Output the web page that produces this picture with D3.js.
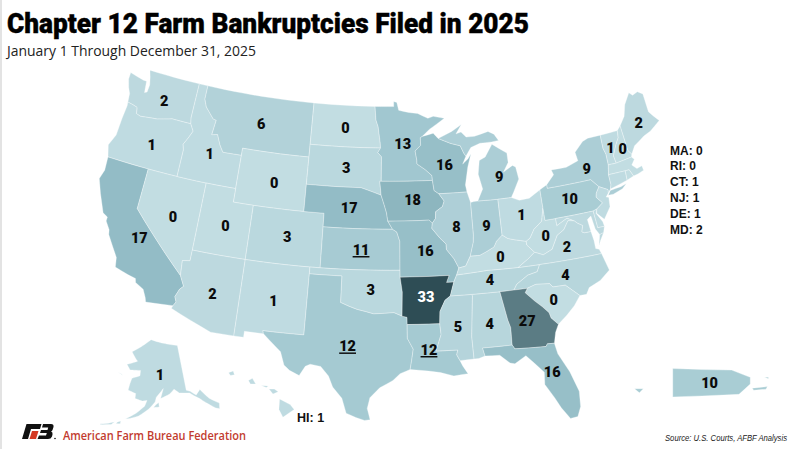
<!DOCTYPE html>
<html>
<head>
<meta charset="utf-8">
<script src="https://cdnjs.cloudflare.com/ajax/libs/d3/7.8.5/d3.min.js"></script>
<style>
html, body { margin: 0; padding: 0; background: #fff; }
svg { display: block; }
text { font-family: "Liberation Sans", Arial, sans-serif; }
</style>
</head>
<body>
<div id="chart"></div>
<script>
// values
var stateIds = ["WA","OR","CA","NV","ID","MT","WY","UT","AZ","CO","NM","ND","SD","NE","KS","OK","TX","MN","IA","MO","AR","LA","WI","IL","MS","AL","TN","KY","IN","MI","OH","WV","VA","NC","SC","GA","FL","PA","NY","VT","NH","ME","MA","RI","CT","NJ","DE","MD","AK","HI","PR"];
var stateCounts = [2,1,17,0,1,6,0,0,2,3,1,0,3,17,11,3,12,13,18,16,33,12,16,8,5,4,4,0,9,9,1,0,2,4,0,27,16,10,9,1,0,2,0,0,1,1,1,2,1,1,10];
var sideList = ["MA","RI","CT","NJ","DE","MD"];
var underlined = ["KS","TX","LA"];

// state outlines, "lon,lat" rings
var outlines = {
WA:["-124.7,48.4 -123.1,48.15 -122.75,48.15 -122.6,47.3 -122.35,47.4 -122.3,47.95 -122.5,48.5 -122.75,49 -117.03,49 -117.04,46.42 -116.92,45.99 -118.98,46 -119.3,45.93 -120.5,45.7 -121.2,45.65 -122.3,45.55 -122.76,45.65 -122.9,46.1 -123.4,46.2 -124,46.27 -124.1,46.9 -124.4,47.3 -124.7,47.9"],
OR:["-124,46.27 -123.4,46.2 -122.9,46.1 -122.76,45.65 -122.3,45.55 -121.2,45.65 -120.5,45.7 -119.3,45.93 -118.98,46 -116.92,45.99 -116.5,45.5 -116.85,44.9 -117.2,44.4 -117.03,44 -117.03,42 -124.2,42 -124.55,42.85 -124.1,43.7 -124.05,45 -123.95,46"],
CA:["-124.2,42 -120,42 -120,39 -114.63,35 -114.15,34.27 -114.45,34 -114.72,33.4 -114.52,33.03 -114.72,32.72 -117.12,32.53 -117.25,32.85 -117.6,33.4 -118.4,33.75 -118.5,34.03 -119.2,34.15 -120.5,34.45 -120.65,35.15 -121.9,36.6 -122,36.95 -122.5,37.5 -122.5,37.8 -123,38 -123.8,39.3 -124.35,40.3 -124.1,41"],
NV:["-120,42 -114.04,42 -114.04,37 -114.05,36.2 -114.74,36.1 -114.63,35 -120,39"],
ID:["-117.03,49 -116.05,49 -116.05,48 -115.7,47.45 -114.7,46.7 -114.35,46.65 -114.5,45.55 -113.9,45.65 -113.45,44.95 -113,44.45 -111.05,44.48 -111.05,42 -117.03,42 -117.03,44 -117.2,44.4 -116.85,44.9 -116.5,45.5 -116.92,45.99 -117.04,46.42"],
MT:["-116.05,49 -104.05,49 -104.05,45.94 -104.05,45 -111.05,45 -111.05,44.48 -113,44.45 -113.45,44.95 -113.9,45.65 -114.5,45.55 -114.35,46.65 -114.7,46.7 -115.7,47.45 -116.05,48"],
WY:["-111.05,45 -104.05,45 -104.05,43 -104.05,41 -111.05,41 -111.05,42 -111.05,44.48"],
UT:["-114.04,42 -111.05,42 -111.05,41 -109.05,41 -109.05,37 -114.04,37"],
CO:["-109.05,41 -104.05,41 -102.05,41 -102.05,40 -102.05,37 -103,37 -109.05,37"],
AZ:["-114.04,37 -109.05,37 -109.05,31.33 -111.07,31.33 -114.81,32.5 -114.72,32.72 -114.52,33.03 -114.72,33.4 -114.45,34 -114.15,34.27 -114.63,35 -114.74,36.1 -114.05,36.2"],
NM:["-109.05,37 -103,37 -103,36.5 -103.04,32 -106.62,32 -106.53,31.78 -108.2,31.78 -108.2,31.33 -109.05,31.33"],
ND:["-104.05,49 -97.23,49 -97.1,48 -96.85,47.5 -96.6,46.3 -96.56,45.94 -104.05,45.94"],
SD:["-104.05,45.94 -96.56,45.94 -96.85,45.6 -96.45,45.3 -96.45,43.5 -96.6,43.5 -96.45,42.49 -97.85,42.85 -98.5,43 -104.05,43"],
NE:["-104.05,43 -98.5,43 -97.85,42.85 -96.45,42.49 -96.1,41.7 -95.9,41.2 -95.77,40.59 -95.31,40 -102.05,40 -102.05,41 -104.05,41"],
KS:["-102.05,40 -95.31,40 -94.9,39.8 -94.61,39.11 -94.62,37 -102.05,37"],
OK:["-103,37 -102.05,37 -94.62,37 -94.62,36.5 -94.43,35.4 -94.48,33.64 -95.2,33.9 -96,33.85 -97,33.8 -97.7,33.95 -98.5,34.1 -99.2,34.3 -100,34.56 -100,36.5 -103,36.5"],
TX:["-103,36.5 -100,36.5 -100,34.56 -99.2,34.3 -98.5,34.1 -97.7,33.95 -97,33.8 -96,33.85 -95.2,33.9 -94.48,33.64 -94.04,33.55 -94.04,33.02 -94.04,32 -93.55,31.2 -93.7,30.4 -93.85,29.7 -94.7,29.4 -95.3,28.9 -96.4,28.35 -97.2,27.6 -97.4,26.8 -97.15,25.96 -97.6,25.9 -98.3,26.1 -99.1,26.4 -99.5,27.5 -100.3,28.3 -100.7,29.1 -101.4,29.77 -102.3,29.88 -102.7,29.7 -103.15,28.98 -104,29.3 -104.5,29.65 -104.9,30.6 -106,31.4 -106.53,31.78 -106.62,32 -103.04,32"],
MN:["-97.23,49 -95.15,49 -95.15,49.38 -94.8,49.3 -94.6,48.72 -93.5,48.55 -92.5,48.45 -91.4,48.07 -90.8,48.2 -89.6,48 -91.3,47.25 -92.1,46.75 -92.3,46.66 -92.3,46.1 -92.9,45.7 -92.75,45 -92.75,44.75 -91.9,44.3 -91.25,43.85 -91.22,43.5 -96.45,43.5 -96.45,45.3 -96.85,45.6 -96.56,45.94 -96.6,46.3 -96.85,47.5 -97.1,48"],
WI:["-92.1,46.75 -90.9,46.95 -90.4,46.55 -89.1,46.13 -88.1,45.9 -87.8,45.35 -87.6,45.1 -88,44.55 -87.4,44.9 -87.05,45.25 -87.5,44.3 -87.9,43 -87.8,42.49 -90.64,42.5 -91.1,42.75 -91.22,43.5 -91.25,43.85 -91.9,44.3 -92.75,44.75 -92.75,45 -92.9,45.7 -92.3,46.1 -92.3,46.66"],
IA:["-96.45,43.5 -91.22,43.5 -91.1,42.75 -90.64,42.5 -90.15,41.95 -90.35,41.55 -91.05,41.2 -91.1,40.7 -91.42,40.38 -91.73,40.61 -95.77,40.59 -95.9,41.2 -96.1,41.7 -96.45,42.49 -96.6,43.5"],
MO:["-95.77,40.59 -91.73,40.61 -91.42,40.38 -91.5,40 -90.75,39.25 -90.2,38.8 -90.2,38.4 -89.55,37.7 -89.15,37 -89.4,36.5 -89.7,36 -90.37,36 -90.1,36.5 -94.62,36.5 -94.62,37 -94.61,39.11 -94.9,39.8 -95.31,40"],
AR:["-94.62,36.5 -90.1,36.5 -90.37,36 -89.7,36 -90.1,35 -90.6,34.7 -91.1,33.9 -91.17,33 -94.04,33.02 -94.04,33.55 -94.48,33.64 -94.43,35.4"],
LA:["-94.04,33.02 -91.17,33 -91.1,32.2 -91.6,31 -89.73,31 -89.85,30.65 -89.6,30.2 -89.4,29.8 -89,29.2 -90.2,29.1 -91.3,29.4 -92.3,29.55 -93.85,29.7 -93.7,30.4 -93.55,31.2 -94.04,32"],
MS:["-90.1,35 -88.2,35 -88.1,34.9 -88.45,31.9 -88.4,30.25 -89.6,30.2 -89.85,30.65 -89.73,31 -91.6,31 -91.1,32.2 -91.17,33 -91.1,33.9 -90.6,34.7"],
AL:["-88.2,35 -85.6,35 -85.18,32.87 -85,32.3 -85.05,31 -87.6,31 -87.45,30.4 -88,30.25 -88.4,30.25 -88.45,31.9 -88.1,34.9"],
TN:["-90.1,35 -89.7,36 -89.4,36.5 -86.5,36.65 -83.68,36.6 -81.68,36.59 -82,36.1 -82.9,35.95 -84,35.4 -84.32,35 -85.6,35 -88.2,35"],
KY:["-89.4,36.5 -89.15,37 -88.5,37.1 -88,37.8 -87.1,37.8 -86.5,38 -85.7,38.3 -85.4,38.7 -84.8,39.1 -84.3,38.8 -83.7,38.65 -82.6,38.42 -82.6,38.15 -81.97,37.54 -82.7,37.1 -83.68,36.6 -86.5,36.65"],
IL:["-90.64,42.5 -87.8,42.49 -87.53,41.7 -87.53,39.35 -87.6,38.8 -88,37.8 -88.5,37.1 -89.15,37 -89.55,37.7 -90.2,38.4 -90.2,38.8 -90.75,39.25 -91.5,40 -91.42,40.38 -91.1,40.7 -91.05,41.2 -90.35,41.55 -90.15,41.95"],
IN:["-87.53,41.7 -87.2,41.75 -86.8,41.76 -84.8,41.73 -84.8,39.1 -85.4,38.7 -85.7,38.3 -86.5,38 -87.1,37.8 -88,37.8 -87.6,38.8 -87.53,39.35"],
OH:["-84.8,41.73 -83.45,41.73 -82.7,41.45 -81.7,41.5 -80.52,41.98 -80.52,40.64 -80.85,39.7 -81.7,39.2 -82.2,38.6 -82.6,38.42 -83.7,38.65 -84.3,38.8 -84.8,39.1"],
MI:["-86.8,41.76 -84.8,41.73 -83.45,41.73 -83.15,42.1 -82.45,43 -82.6,43.9 -82.9,44.05 -83.9,43.65 -83.3,44.3 -83.3,45 -84.75,45.78 -85.6,44.9 -86.25,44.7 -86.5,43.7 -86.2,42.6",
    "-90.4,46.55 -89.1,46.13 -88.1,45.9 -87.8,45.35 -87.6,45.1 -87,45.7 -86,45.95 -84.75,45.95 -84,46 -84.4,46.5 -85,46.75 -86.5,46.5 -87.4,46.5 -87.9,46.9 -88.45,46.8 -87.8,47.45 -88.9,47"],
PA:["-80.52,41.98 -79.76,42.27 -79.76,42 -75.35,42 -74.7,41.36 -75.1,40.95 -75.2,40.65 -74.72,40.15 -75.4,39.8 -75.79,39.72 -79.48,39.72 -80.52,39.72 -80.52,40.64"],
NY:["-79.76,42.27 -78.9,42.9 -79.05,43.27 -77.5,43.25 -76.2,43.55 -76.3,44.2 -75.3,44.85 -74.7,45 -73.35,45 -73.4,44 -73.25,43.55 -73.28,42.75 -73.5,42.05 -73.5,41.3 -73.65,41 -73.95,40.75 -73.9,41 -74.7,41.36 -75.35,42 -79.76,42",
    "-74,40.6 -73.7,40.9 -72.6,40.98 -72,41.1 -72.5,40.8 -73.5,40.58"],
NJ:["-73.9,41 -73.95,40.75 -74.25,40.5 -74,40.45 -74.1,39.75 -74.9,38.95 -75.5,39.5 -75.4,39.8 -74.72,40.15 -75.2,40.65 -75.1,40.95 -74.7,41.36"],
DE:["-75.79,39.72 -75.4,39.8 -75.55,39.5 -75.1,38.8 -75.05,38.45 -75.7,38.46"],
MD:["-79.48,39.72 -75.79,39.72 -75.7,38.46 -75.05,38.45 -75.25,38.03 -75.65,37.95 -75.95,38.4 -76.1,39.4 -76.5,39.2 -76.4,38.3 -77,38.3 -77.25,38.4 -77.05,38.85 -77.5,39.1 -77.75,39.3 -78.4,39.6 -79.48,39.2"],
VA:["-83.68,36.6 -81.68,36.59 -75.87,36.55 -76,36.9 -76.3,37 -76.3,37.6 -76.4,38.3 -77,38.3 -77.25,38.4 -77.05,38.85 -77.5,39.1 -77.75,39.3 -78.35,39.4 -78.9,38.8 -79.6,38.5 -80.3,37.55 -81.2,37.25 -81.97,37.54 -82.7,37.1",
    "-75.95,37.15 -75.65,37.95 -75.25,38.03 -75.7,37.5"],
WV:["-80.52,40.64 -80.52,39.72 -79.48,39.72 -79.48,39.2 -78.4,39.6 -77.75,39.3 -78.35,39.4 -78.9,38.8 -79.6,38.5 -80.3,37.55 -81.2,37.25 -81.97,37.54 -82.6,38.15 -82.6,38.42 -82.2,38.6 -81.7,39.2 -80.85,39.7"],
NC:["-84.32,35 -84,35.4 -82.9,35.95 -82,36.1 -81.68,36.59 -75.87,36.55 -75.5,35.25 -76.5,34.65 -77.6,34.3 -77.95,33.85 -78.55,33.86 -79.67,34.8 -80.8,34.82 -81.05,35.1 -82.3,35.2 -83.1,35"],
SC:["-83.1,35 -82.3,35.2 -81.05,35.1 -80.8,34.82 -79.67,34.8 -78.55,33.86 -79.2,33.2 -80,32.6 -80.85,32.05 -81.4,32.6 -81.5,33 -82,33.5 -82.6,34 -83.35,34.7"],
GA:["-85.6,35 -84.32,35 -83.1,35 -83.35,34.7 -82.6,34 -82,33.5 -81.5,33 -81.4,32.6 -80.85,32.05 -81.2,31.5 -81.45,30.72 -82.05,30.75 -82.2,30.57 -84.86,30.7 -85.05,31 -85,32.3 -85.18,32.87"],
FL:["-87.6,31 -85.05,31 -84.86,30.7 -82.2,30.57 -82.05,30.75 -81.45,30.72 -81.3,29.9 -80.55,28.45 -80.05,26.9 -80.15,25.75 -80.5,25.05 -81.1,25 -81.7,25.9 -82.1,26.7 -82.75,27.8 -82.65,28.7 -83.4,29.5 -84,30.1 -85,29.6 -85.4,29.7 -86.2,30.35 -87.45,30.4"],
ME:["-71.08,45.3 -70.4,45.9 -70.25,46.2 -70,46.7 -69.22,47.46 -68.9,47.2 -68.3,47.35 -67.8,47.07 -67.8,45.7 -67.45,45.3 -67,44.85 -68.2,44.3 -69,44.1 -70.2,43.6 -70.7,43.07 -70.98,43.4"],
NH:["-71.5,45.01 -71.08,45.3 -70.98,43.4 -70.7,43.07 -70.82,42.87 -72.46,42.73 -72.55,43.3 -72.05,44 -71.6,44.5"],
VT:["-73.35,45 -71.5,45.01 -71.6,44.5 -72.05,44 -72.55,43.3 -72.46,42.73 -73.28,42.75 -73.25,43.55 -73.4,44"],
MA:["-73.5,42.05 -73.28,42.75 -72.46,42.73 -70.82,42.87 -70.6,42.65 -71,42.3 -70.6,41.95 -70.05,42.05 -70,41.7 -70.65,41.55 -71.12,41.5 -71.38,42.02 -71.8,42.02"],
RI:["-71.8,42.02 -71.38,42.02 -71.12,41.5 -71.85,41.32"],
CT:["-73.5,42.05 -71.8,42.02 -71.85,41.32 -73.65,41 -73.5,41.3"],
AK:["-141,69.65 -141,60.3 -139.5,59.9 -137.5,58.9 -135.5,59.8 -133,57.5 -130,55.9 -130.6,54.8 -131.8,55.2 -134,56.5 -136.5,58 -139.9,59.6 -144,60 -146,60.9 -148,60 -151.8,59.2 -150.5,61.2 -153.5,59.5 -154,58.5 -156.5,57 -160,55.5 -163,54.8 -164.5,54.6 -161,56 -158,57.6 -157.2,58.8 -159,58.6 -162,59 -162,60 -165.3,60.5 -165,61.8 -164.5,63 -161,63.7 -161,64.8 -166,64.6 -168,65.6 -163,66.6 -164,67 -166.7,68.35 -163,69.4 -156.5,71.3 -152,70.8 -148,70.4",
    "-154.6,57.4 -152.4,57.5 -152.6,58.4 -153.8,57.9",
    "-171.5,63.7 -168.8,63.2 -169.5,63.4",
    "-172.6,52.3 -169,52.9 -168,53.6 -170,53 -172.5,52.5",
    "-167.5,53.3 -166,53.4 -166,54 -167,53.7"],
HI:["-155.9,20.25 -155.1,19.85 -154.8,19.5 -155.65,18.95 -155.95,19.5",
    "-156.7,20.95 -156.3,20.95 -156,20.75 -156.4,20.6",
    "-158.25,21.55 -157.95,21.7 -157.7,21.3 -158.1,21.3",
    "-159.75,22.1 -159.4,22.22 -159.3,21.95 -159.6,21.9",
    "-157.3,21.2 -156.75,21.17 -156.9,21.05"],
PR:["-67.2,18.5 -66.6,18.48 -66,18.47 -65.62,18.33 -65.62,18.2 -65.85,18 -66.6,17.97 -67.2,17.95",
    "-65.58,18.12 -65.27,18.15 -65.3,18.1 -65.55,18.08",
    "-65.33,18.33 -65.25,18.33 -65.25,18.3",
    "-67.98,18.11 -67.8,18.11 -67.88,18.03"]
};

// label anchors in lon,lat
var labelAt = {WA:[-120.3,47.15],OR:[-120.3,43.75],CA:[-119.1,37],NV:[-116.5,39.05],ID:[-114.3,44.1],MT:[-109.5,46.95],WY:[-107.3,42.85],UT:[-111.4,39.15],AZ:[-111.5,34.15],CO:[-105.4,39],NM:[-106,34.25],ND:[-100.4,47.3],SD:[-100.1,44.4],NE:[-99.6,41.45],KS:[-98.3,38.45],OK:[-97.3,35.55],TX:[-99.2,31.35],MN:[-94.2,46.25],IA:[-93.3,42.1],MO:[-92.2,38.4],AR:[-92.3,35],LA:[-92.2,31.1],WI:[-89.9,44.6],IL:[-89.1,40],MS:[-89.6,32.65],AL:[-86.8,32.75],TN:[-86.4,35.9],KY:[-85.2,37.5],IN:[-86.2,39.9],MI:[-84.4,43.35],OH:[-82.7,40.4],WV:[-80.7,38.55],VA:[-78.9,37.5],NC:[-79.5,35.5],SC:[-80.9,33.9],GA:[-83.5,32.65],FL:[-82,28.65],PA:[-77.8,40.9],NY:[-75.5,42.8],VT:[-72.65,43.9],NH:[-71.45,43.6],ME:[-69.1,45.15],AK:[-151.7,64],PR:[-66.45,18.22]};

var width = 800, height = 449;

var colorScale = d3.scaleLinear()
    .domain([0, 6, 12, 17, 27, 33])
    .range(["#c2dde2", "#b2d2d9", "#a5cad2", "#93bcc6", "#5b7c84", "#2e4d55"]);

var lower48 = d3.geoAlbers().parallels([32, 47]).rotate([95.5, 0]).center([-1.1, 38.7]).scale(778).translate([379, 247]);
var alaskaProj = d3.geoConicEqualArea().rotate([154, 0]).center([-2, 58.5]).parallels([55, 65]).scale(280).translate([150, 402]);
var hawaiiProj = d3.geoMercator().center([-157, 20.6]).scale(760).translate([265, 394]);
var prProj = d3.geoMercator().center([-66.4, 18.22]).scale(2810).translate([712, 383]);

function projFor(id) {
    return id == "AK" ? alaskaProj : id == "HI" ? hawaiiProj : id == "PR" ? prProj : lower48;
}

// long straight borders follow the parallels, so add points along the way
function parseRing(str) {
    var pts = str.split(" ").map(function(p) { return p.split(",").map(Number); });
    var out = [];
    pts.forEach(function(p, i) {
        var q = pts[(i + 1) % pts.length];
        var n = Math.max(1, Math.ceil(Math.abs(q[0] - p[0])));
        for (var k = 0; k < n; k++) {
            out.push([p[0] + (q[0] - p[0]) * k / n, p[1] + (q[1] - p[1]) * k / n]);
        }
    });
    out.push(out[0]);
    // spherical winding
    if (d3.geoArea({type: "Polygon", coordinates: [out]}) > 2 * Math.PI) out.reverse();
    return out;
}

function featureFor(id) {
    return {
        type: "MultiPolygon",
        coordinates: outlines[id].map(function(r) { return [parseRing(r)]; })
    };
}

var svg = d3.select("#chart").append("svg").attr("width", width).attr("height", height);

svg.append("rect").attr("width", width).attr("height", height).attr("fill", "#fff");
svg.append("rect").attr("width", 2).attr("height", height).attr("fill", "#e3e3e3");

svg.selectAll("path.state")
    .data(stateIds)
    .enter()
    .append("path")
    .attr("class", "state")
    .attr("d", function(id) { return d3.geoPath(projFor(id))(featureFor(id)); })
    .attr("fill", function(id, i) { return colorScale(stateCounts[i]); })
    .attr("stroke", "#fff")
    .attr("stroke-opacity", 0.45)
    .attr("stroke-width", 0.7);

// numbers on the map
svg.selectAll("text.count")
    .data(stateIds.filter(function(id) { return labelAt[id]; }))
    .enter()
    .append("text")
    .attr("class", "count")
    .attr("x", function(id) { return projFor(id)(labelAt[id])[0]; })
    .attr("y", function(id) { return projFor(id)(labelAt[id])[1] + 5; })
    .attr("text-anchor", "middle")
    .attr("font-size", 14.5)
    .attr("font-weight", 900)
    .style("font-family", "Roboto, sans-serif")
    .style("text-decoration", function(id) { return underlined.indexOf(id) >= 0 ? "underline" : null; })
    .attr("fill", function(id) { return id == "AR" ? "#fff" : "#0b0b0b"; })
    .text(function(id) { return stateCounts[stateIds.indexOf(id)]; });

// small states listed at the side
svg.selectAll("text.side")
    .data(sideList)
    .enter()
    .append("text")
    .attr("class", "side")
    .attr("x", 670)
    .attr("y", function(d, i) { return 154.5 + i * 15.9; })
    .attr("font-size", 12)
    .attr("font-weight", 700)
    .attr("fill", "#111")
    .text(function(d) { return d + ": " + stateCounts[stateIds.indexOf(d)]; });

svg.append("text")
    .attr("x", 297).attr("y", 421.5)
    .attr("font-size", 12.5).attr("font-weight", 700).attr("fill", "#111")
    .text("HI: " + stateCounts[stateIds.indexOf("HI")]);

// header
svg.append("text")
    .attr("x", 7).attr("y", 33)
    .attr("font-size", 27).attr("font-weight", 900)
    .attr("textLength", 522).attr("lengthAdjust", "spacingAndGlyphs")
    .style("font-family", "Roboto, sans-serif")
    .style("stroke", "#000").style("stroke-width", 0.4)
    .attr("fill", "#000")
    .text("Chapter 12 Farm Bankruptcies Filed in 2025");

svg.append("text")
    .attr("x", 7).attr("y", 56)
    .attr("font-size", 15).attr("fill", "#222")
    .attr("textLength", 249).attr("lengthAdjust", "spacingAndGlyphs")
    .style("font-family", "'Open Sans', sans-serif")
    .text("January 1 Through December 31, 2025");

// footer
var logo = svg.append("g").attr("transform", "translate(22,424)");
logo.append("path").attr("fill", "#111").attr("d", "M4.5,0 L19.5,0 L18,5 L9,5 L6,15 L0,15 Z");
logo.append("path").attr("fill", "#d43a24").attr("d", "M10,7 L16.5,7 L14,15 L7.5,15 Z");
logo.append("path").attr("fill", "#111").attr("d", "M21,0 L29,0 Q32,0 31.5,3 L30.5,6 Q30,7 29,7.5 Q31,8 30.5,10.5 L30,12.5 Q29,15 26,15 L15.5,15 L17,11.5 L24,11.5 L24.8,9 L18,9 L19,6 L25.5,6 L26.2,3.5 L20,3.5 Z");
svg.append("circle").attr("cx", 55).attr("cy", 438.5).attr("r", 0.8).attr("fill", "#111");

svg.append("text")
    .attr("x", 63).attr("y", 440)
    .attr("font-size", 12).attr("font-weight", 600).attr("fill", "#c23b2e")
    .attr("textLength", 183).attr("lengthAdjust", "spacingAndGlyphs")
    .style("font-family", "'Open Sans', sans-serif")
    .text("American Farm Bureau Federation");

svg.append("text")
    .attr("x", 787).attr("y", 441)
    .attr("text-anchor", "end")
    .attr("font-size", 8.5).attr("font-style", "italic").attr("fill", "#222")
    .attr("textLength", 122).attr("lengthAdjust", "spacingAndGlyphs")
    .text("Source: U.S. Courts, AFBF Analysis");
</script>
</body>
</html>
